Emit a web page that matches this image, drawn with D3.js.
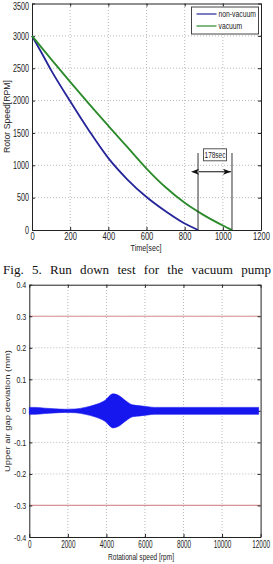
<!DOCTYPE html>
<html>
<head>
<meta charset="utf-8">
<title>Run down test / air gap</title>
<script src="https://cdn.jsdelivr.net/npm/d3@7"></script>
<style>
    body { margin: 0; background: #fff; }
    svg { display: block; }
    .grid line { stroke: #b8b8b8; stroke-dasharray: 1,2; }
    .axis path, .axis line { stroke: #222; }
    .axis text { font-family: 'Liberation Sans', Arial, sans-serif; fill: #222; }
    .lbl { font-family: 'Liberation Sans', Arial, sans-serif; fill: #222; }
</style>
</head>
<body>
<script>
    // --- Fig. 5: run down test, rotor speed [RPM] vs time [sec]
    var nonVacTime  = [0, 50, 100, 200, 300, 400, 500, 600, 700, 800, 870];
    var nonVacSpeed = [3000, 2740, 2470, 1990, 1530, 1110, 780, 510, 290, 100, 0];
    var vacTime  = [0, 100, 200, 300, 400, 500, 600, 700, 800, 900, 1000, 1048];
    var vacSpeed = [3000, 2640, 2290, 1945, 1610, 1280, 950, 660, 420, 230, 70, 0];
    var seriesNames = ["non-vacuum", "vacuum"];
    var timeTicks  = [0, 200, 400, 600, 800, 1000, 1200];
    var speedTicks = [0, 500, 1000, 1500, 2000, 2500, 3000, 3500];
    var stopTimes  = [870, 1048];   // the two curves reach 0 rpm here

    // --- air gap deviation [mm] vs rotational speed [rpm] (signal envelope)
    var gapSpeed = [0, 300, 800, 1300, 1850, 2400, 2900, 3400, 3900, 4350, 4600, 5000, 5350, 5750, 6150, 6500, 11900];
    var gapAmp   = [0.011, 0.011, 0.0085, 0.0065, 0.005, 0.006, 0.011, 0.019, 0.032, 0.054, 0.05, 0.032, 0.019, 0.016, 0.013, 0.011, 0.011];
    var gapLimits = [0.3, -0.3];
    var rpmTicks = [0, 2000, 4000, 6000, 8000, 10000, 12000];
    var gapTicks = [-0.4, -0.3, -0.2, -0.1, 0, 0.1, 0.2, 0.3, 0.4];

    var svg = d3.select("body").append("svg")
            .attr("width", 273)
            .attr("height", 564);

    // grid + box axes (matlab style, ticks pointing in)
    function frame(g, x, y, xTicks, yTicks, yFmt) {
        var grid = g.append("g").attr("class", "grid");
        grid.selectAll("line.v").data(xTicks.slice(1, -1)).join("line")
                .attr("x1", function (d) { return x(d); })
                .attr("x2", function (d) { return x(d); })
                .attr("y1", y.range()[0]).attr("y2", y.range()[1]);
        grid.selectAll("line.h").data(yTicks.slice(1, -1)).join("line")
                .attr("y1", function (d) { return y(d); })
                .attr("y2", function (d) { return y(d); })
                .attr("x1", x.range()[0]).attr("x2", x.range()[1]);

        var bottom = g.append("g").attr("class", "axis x")
                .attr("transform", "translate(0," + y.range()[0] + ")")
                .call(d3.axisBottom(x).tickValues(xTicks).tickSizeInner(-3).tickSizeOuter(0)
                        .tickPadding(3).tickFormat(d3.format("d")));
        g.append("g").attr("class", "axis")
                .attr("transform", "translate(0," + y.range()[1] + ")")
                .call(d3.axisTop(x).tickValues(xTicks).tickSizeInner(-3).tickSizeOuter(0).tickFormat(""));
        var left = g.append("g").attr("class", "axis y")
                .attr("transform", "translate(" + x.range()[0] + ",0)")
                .call(d3.axisLeft(y).tickValues(yTicks).tickSizeInner(-3).tickSizeOuter(0)
                        .tickPadding(4).tickFormat(yFmt));
        g.append("g").attr("class", "axis")
                .attr("transform", "translate(" + x.range()[1] + ",0)")
                .call(d3.axisRight(y).tickValues(yTicks).tickSizeInner(-3).tickSizeOuter(0).tickFormat(""));
        return {bottom: bottom, left: left};
    }

    // ================= top chart =================
    var x1 = d3.scaleLinear().domain([0, 1200]).range([32, 261]);
    var y1 = d3.scaleLinear().domain([0, 3500]).range([230, 3.5]);
    var topG = svg.append("g");
    var ax1 = frame(topG, x1, y1, timeTicks, speedTicks, d3.format("d"));
    ax1.bottom.selectAll("text").style("font-size", "10px").attr("transform", "scale(0.76,1)");
    ax1.left.selectAll("text").style("font-size", "10px").attr("transform", "scale(0.72,1)");
    // top label sits at the upper edge, nudge it down so it stays readable
    ax1.left.selectAll("text").filter(function (d) { return d === 3500; }).attr("dy", "0.6em");

    var line1 = d3.line()
            .x(function (d) { return x1(d[0]); })
            .y(function (d) { return y1(d[1]); })
            .curve(d3.curveMonotoneX);
    var colors1 = ["#25259a", "#2a8a2a"];
    var series1 = [d3.zip(nonVacTime, nonVacSpeed), d3.zip(vacTime, vacSpeed)];
    topG.selectAll("path.line").data(series1).join("path")
            .attr("class", "line")
            .attr("fill", "none")
            .attr("stroke", function (d, i) { return colors1[i]; })
            .attr("stroke-width", 1.8)
            .attr("d", line1);

    // 178 sec annotation
    var defs = svg.append("defs");
    ["start", "end"].forEach(function (k) {
        defs.append("marker").attr("id", "arr-" + k)
                .attr("viewBox", "0 0 8 6").attr("refX", k == "end" ? 8 : 0).attr("refY", 3)
                .attr("markerWidth", 8).attr("markerHeight", 6)
                .attr("markerUnits", "userSpaceOnUse").attr("orient", "auto-start-reverse")
                .append("path").attr("d", "M0,0 L8,3 L0,6 L2,3 z").attr("fill", "#111");
    });
    topG.selectAll("line.stop").data(stopTimes).join("line")
            .attr("class", "stop")
            .attr("x1", function (d) { return x1(d); }).attr("x2", function (d) { return x1(d); })
            .attr("y1", y1(0)).attr("y2", y1(1190))
            .attr("stroke", "#333");
    topG.append("line")
            .attr("x1", x1(stopTimes[0]) + 1).attr("x2", x1(stopTimes[1]) - 1)
            .attr("y1", y1(900)).attr("y2", y1(900))
            .attr("stroke", "#111")
            .attr("marker-start", "url(#arr-start)")
            .attr("marker-end", "url(#arr-end)");
    var mid = (stopTimes[0] + stopTimes[1]) / 2;
    topG.append("rect")
            .attr("x", x1(mid) - 11.5).attr("y", y1(1255))
            .attr("width", 23).attr("height", 12)
            .attr("fill", "#fff").attr("stroke", "#555");
    topG.append("text").attr("class", "lbl")
            .attr("transform", "translate(" + x1(mid) + "," + (y1(1255) + 9) + ") scale(0.72,1)")
            .attr("text-anchor", "middle")
            .style("font-size", "9px")
            .text((stopTimes[1] - stopTimes[0]) + "sec");

    // legend
    var leg = topG.append("g").attr("transform", "translate(191.5,7)");
    leg.append("rect").attr("width", 67).attr("height", 27)
            .attr("fill", "#fff").attr("stroke", "#444");
    seriesNames.forEach(function (name, i) {
        leg.append("line").attr("x1", 5).attr("x2", 25)
                .attr("y1", 7 + i * 12).attr("y2", 7 + i * 12)
                .attr("stroke", colors1[i]).attr("stroke-width", 1.2);
        leg.append("text").attr("class", "lbl")
                .attr("transform", "translate(27," + (10 + i * 12) + ") scale(0.8,1)")
                .style("font-size", "8.5px")
                .text(name);
    });

    topG.append("text").attr("class", "lbl")
            .attr("x", 146).attr("y", 251)
            .attr("text-anchor", "middle")
            .attr("textLength", 31).attr("lengthAdjust", "spacingAndGlyphs")
            .style("font-size", "9px")
            .text("Time[sec]");
    topG.append("text").attr("class", "lbl")
            .attr("transform", "translate(10,116.5) rotate(-90)")
            .attr("text-anchor", "middle")
            .attr("textLength", 73).attr("lengthAdjust", "spacingAndGlyphs")
            .style("font-size", "9px")
            .text("Rotor Speed[RPM]");

    // caption (justified column text, squeezed to fit the width)
    svg.append("text")
            .attr("x", 3).attr("y", 274)
            .style("font-family", "'Liberation Serif', 'Times New Roman', serif")
            .style("font-size", "13px")
            .style("word-spacing", "5px")
            .attr("textLength", 268).attr("lengthAdjust", "spacingAndGlyphs")
            .attr("fill", "#111")
            .text("Fig. 5. Run down test for the vacuum pump");

    // ================= bottom chart =================
    var x2 = d3.scaleLinear().domain([0, 12000]).range([29.3, 260.6]);
    var y2 = d3.scaleLinear().domain([-0.4, 0.4]).range([537, 284.7]);
    var botG = svg.append("g");

    botG.selectAll("line.limit").data(gapLimits).join("line")
            .attr("class", "limit")
            .attr("x1", x2.range()[0]).attr("x2", x2.range()[1])
            .attr("y1", function (d) { return y2(d); })
            .attr("y2", function (d) { return y2(d); })
            .attr("stroke", "#e0868c").attr("stroke-width", 1.2);

    var ax2 = frame(botG, x2, y2, rpmTicks, gapTicks, function (d) { return d === 0 ? "0" : d.toFixed(1); });
    ax2.left.selectAll("text").style("font-size", "9.5px").attr("transform", "scale(0.75,1)");
    ax2.bottom.selectAll("text").style("font-size", "11px").attr("transform", "scale(0.58,1)");

    var idx = d3.range(gapSpeed.length);
    var area2 = d3.area()
            .x(function (i) { return x2(gapSpeed[i]); })
            .y0(function (i) { return y2(-gapAmp[i]); })
            .y1(function (i) { return y2(gapAmp[i]); })
            .curve(d3.curveMonotoneX);
    botG.append("path")
            .datum(idx)
            .attr("fill", "#1616ee")
            .attr("stroke", "#1616ee")
            .attr("stroke-width", 0.6)
            .attr("d", area2);

    botG.append("text").attr("class", "lbl")
            .attr("x", 141).attr("y", 560)
            .attr("text-anchor", "middle")
            .attr("textLength", 66).attr("lengthAdjust", "spacingAndGlyphs")
            .style("font-size", "9px")
            .text("Rotational speed [rpm]");
    botG.append("text").attr("class", "lbl")
            .attr("transform", "translate(9.5,411) rotate(-90)")
            .attr("text-anchor", "middle")
            .attr("textLength", 122).attr("lengthAdjust", "spacingAndGlyphs")
            .style("font-size", "8px")
            .text("Upper air gap deviation (mm)");
</script>
</body>
</html>
